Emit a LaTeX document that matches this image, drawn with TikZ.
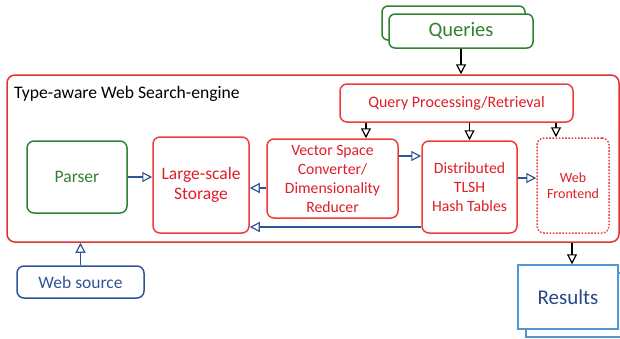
\documentclass[tikz,border=0pt]{standalone}
\usepackage{fontspec}
\setmainfont{Carlito}
\usetikzlibrary{arrows.meta,calc}
\definecolor{bred}{RGB}{238,60,60}
\definecolor{tred}{RGB}{222,30,40}
\definecolor{fred}{RGB}{225,50,50}
\definecolor{dgreen}{RGB}{50,128,50}
\definecolor{dblue}{RGB}{47,85,151}
\definecolor{lblue}{RGB}{80,150,210}
\definecolor{rblue}{RGB}{40,72,135}
\tikzset{
  box/.style={draw, rounded corners=7pt, line width=1.5pt, inner sep=0pt, align=center, fill=white},
  redbox/.style={box, draw=bred, text=tred},
  greenbox/.style={box, draw=dgreen, text=dgreen},
  bluebox/.style={box, draw=dblue, text=dblue},
  resbox/.style={draw=lblue, line width=1.5pt, fill=white, text=rblue, inner sep=0pt},
  tip/.style={-{Triangle[open,length=10pt,width=10pt]}, line width=1.2pt},
  blk/.style={tip, draw=black},
  blu/.style={tip, draw=dblue},
}
\begin{document}
\begin{tikzpicture}[x=1pt,y=-1pt]
\useasboundingbox (0,0) rectangle (620,338);
\clip (0,0) rectangle (620,338);
% Queries (stacked)
\node[greenbox, rounded corners=6pt, minimum width=143pt, minimum height=34pt] (qback) at (453.5,23) {};
\node[greenbox, rounded corners=6pt, minimum width=144pt, minimum height=34pt, font=\fontsize{20.5}{24}\selectfont] (queries) at (461,31) {Queries};
% Outer frame
\node[draw=fred, rounded corners=8pt, line width=1.5pt, minimum width=612pt, minimum height=167pt, inner sep=0pt] (frame) at (313,158.5) {};
\node[anchor=base west, font=\fontsize{17.6}{20}\selectfont, inner sep=0pt] (title) at (14,98) {Type-aware Web Search-engine};
% Inner boxes
\node[redbox, minimum width=233pt, minimum height=38pt, font=\fontsize{16}{19}\selectfont] (qp) at (456.5,103) {Query Processing/Retrieval};
\node[greenbox, minimum width=100pt, minimum height=72pt, font=\fontsize{17.5}{20}\selectfont] (parser) at (77,177) {Parser};
\node[redbox, minimum width=96pt, minimum height=96pt, font=\fontsize{17.5}{20.5}\selectfont] (storage) at (201,185) {Large-scale\\Storage};
\node[redbox, minimum width=131pt, minimum height=79pt, font=\fontsize{15.7}{19}\selectfont] (vsc) at (332.5,178.5) {Vector Space\\Converter/\\Dimensionality\\Reducer};
\node[redbox, minimum width=95pt, minimum height=92pt, font=\fontsize{15.7}{19}\selectfont] (tlsh) at (469.5,187) {Distributed\\TLSH\\Hash Tables};
\node[redbox, dash pattern=on 1.6pt off 1.6pt, minimum width=72pt, minimum height=95pt, font=\fontsize{14}{16.5}\selectfont] (wf) at (573,185.5) {Web\\Frontend};
% Web source
\node[bluebox, minimum width=127pt, minimum height=32pt, font=\fontsize{17.5}{20}\selectfont] (web) at (80.5,282) {Web source};
% Results (stacked)
\node[resbox, minimum width=100pt, minimum height=64pt] (rback) at (576,305) {};
\node[resbox, minimum width=100pt, minimum height=64pt, font=\fontsize{21}{25}\selectfont] (results) at (568,297) {Results};
% connector helper coordinates
\coordinate (xq1) at (366,0);
\coordinate (xq3) at (556,0);
\coordinate (xr) at (572,0);
\coordinate (yvs) at (0,188);
\coordinate (yvt) at (0,156);
\coordinate (yts) at (0,227);
\coordinate (ytw) at (0,178);
% black arrows
\draw[blk] (queries.south) -- (queries.south |- frame.north);
\draw[blk] (xq1 |- qp.south) -- (xq1 |- vsc.north);
\draw[blk] (qp.south -| tlsh.north) -- (tlsh.north);
\draw[blk] (xq3 |- qp.south) -- (xq3 |- wf.north);
\draw[blk] (xr |- frame.south) -- (xr |- results.north);
% blue arrows
\draw[blu] (parser.east) -- (parser.east -| storage.west);
\draw[blu] (vsc.west |- yvs) -- (storage.east |- yvs);
\draw[blu] (vsc.east |- yvt) -- (tlsh.west |- yvt);
\draw[blu] (tlsh.west |- yts) -- (storage.east |- yts);
\draw[blu] (tlsh.east |- ytw) -- (wf.west |- ytw);
\draw[blu] (web.north) -- (web.north |- frame.south);
\end{tikzpicture}
\end{document}
